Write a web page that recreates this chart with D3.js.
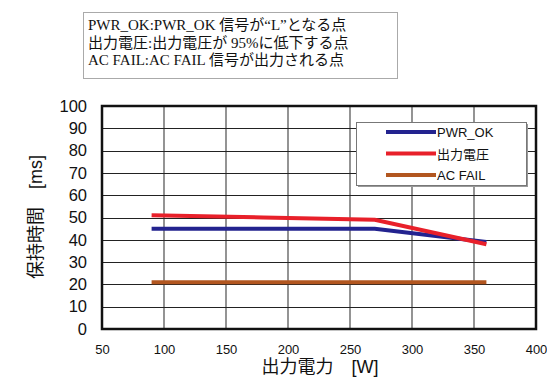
<!DOCTYPE html>
<html>
<head>
<meta charset="utf-8">
<script src="https://cdn.jsdelivr.net/npm/d3@7"></script>
<style>
  body { margin: 0; background: #fff; }
  svg text { font-family: "Liberation Sans", Arial, "Noto Sans CJK JP", sans-serif; }
</style>
</head>
<body>
<svg id="chart" width="547" height="383"></svg>
<script>
// data
const power = [90, 180, 270, 360];
const pwrOk = [45, 45, 45, 39];
const outVolt = [51, 50, 49, 38];
const acFail = [21, 21, 21, 21];
const seriesNames = ["PWR_OK", "出力電圧", "AC FAIL"];
const seriesColors = ["#23238f", "#e8202a", "#b2561f"];
const xTicks = [50, 100, 150, 200, 250, 300, 350, 400];
const yTicks = [0, 10, 20, 30, 40, 50, 60, 70, 80, 90, 100];
const notes = [
  "PWR_OK:PWR_OK 信号が“L”となる点",
  "出力電圧:出力電圧が 95%に低下する点",
  "AC FAIL:AC FAIL 信号が出力される点"
];

const svg = d3.select("#chart");
const plotLeft = 102, plotRight = 536, plotTop = 106, plotBottom = 329;

const x = d3.scaleLinear().domain([50, 400]).range([plotLeft, plotRight]);
const y = d3.scaleLinear().domain([0, 100]).range([plotBottom, plotTop]);

// note box at the top
svg.append("rect")
  .attr("x", 83.5).attr("y", 12.5)
  .attr("width", 314).attr("height", 66)
  .attr("fill", "#fff")
  .attr("stroke", "#aaa");

svg.selectAll("text.note")
  .data(notes)
  .enter()
  .append("text")
  .attr("class", "note")
  .attr("x", 88)
  .attr("y", (d, i) => 30 + i * 17.5)
  .style("font-family", "'Liberation Serif', 'Noto Sans CJK JP', serif")
  .style("font-size", "15px")
  .attr("fill", "#111")
  .text(d => d);

// grid
const g = svg.append("g");
g.selectAll("line.vgrid")
  .data(xTicks.slice(1, -1))
  .enter()
  .append("line")
  .attr("x1", d => x(d)).attr("x2", d => x(d))
  .attr("y1", plotTop).attr("y2", plotBottom)
  .attr("stroke", "#666")
  .attr("stroke-width", 1.4);

g.selectAll("line.hgrid")
  .data(yTicks.slice(1, -1))
  .enter()
  .append("line")
  .attr("x1", plotLeft).attr("x2", plotRight)
  .attr("y1", d => Math.round(y(d)) + 0.5).attr("y2", d => Math.round(y(d)) + 0.5)
  .attr("stroke", "#222")
  .attr("stroke-width", 1.2);

// frame
svg.append("rect")
  .attr("x", plotLeft).attr("y", plotTop)
  .attr("width", plotRight - plotLeft).attr("height", plotBottom - plotTop)
  .attr("fill", "none")
  .attr("stroke", "#111")
  .attr("stroke-width", 2.5);

// axes labels
const yAxis = svg.append("g")
  .attr("transform", `translate(${plotLeft},0)`)
  .call(d3.axisLeft(y).tickValues(yTicks).tickSize(0).tickPadding(15));
yAxis.select(".domain").remove();
yAxis.selectAll("text")
  .style("font-size", "16.5px")
  .attr("fill", "#111");

const xAxis = svg.append("g")
  .attr("transform", `translate(0,${plotBottom})`)
  .call(d3.axisBottom(x).tickValues(xTicks).tickSize(0).tickPadding(16));
xAxis.select(".domain").remove();
xAxis.selectAll("text")
  .style("font-size", "13px")
  .attr("fill", "#111");

svg.append("text")
  .attr("transform", "translate(42,217) rotate(-90)")
  .attr("text-anchor", "middle")
  .style("font-size", "18px")
  .attr("fill", "#111")
  .text("保持時間　[ms]");

svg.append("text")
  .attr("x", 320)
  .attr("y", 373)
  .attr("text-anchor", "middle")
  .style("font-size", "18px")
  .attr("fill", "#111")
  .text("出力電力　[W]");

// series
const series = [pwrOk, outVolt, acFail];
const line = d3.line()
  .x((d, i) => x(power[i]))
  .y(d => y(d));

svg.selectAll("path.series")
  .data(series)
  .enter()
  .append("path")
  .attr("class", "series")
  .attr("d", line)
  .attr("fill", "none")
  .attr("stroke", (d, i) => seriesColors[i])
  .attr("stroke-width", 4);

// red drawn over blue where they cross
svg.selectAll("path.series").filter((d, i) => i === 1).raise();

// legend
const legend = svg.append("g");
legend.append("rect")
  .attr("x", 358).attr("y", 124)
  .attr("width", 170).attr("height", 63)
  .attr("fill", "#999");
legend.append("rect")
  .attr("x", 356.5).attr("y", 122.5)
  .attr("width", 170).attr("height", 63)
  .attr("fill", "#fff")
  .attr("stroke", "#777");

const items = legend.selectAll("g.item")
  .data(seriesNames)
  .enter()
  .append("g")
  .attr("transform", (d, i) => `translate(0,${132 + i * 21.5})`);
items.append("line")
  .attr("x1", 386).attr("x2", 436)
  .attr("stroke", (d, i) => seriesColors[i])
  .attr("stroke-width", 4);
items.append("text")
  .attr("x", 437)
  .attr("y", 5)
  .style("font-size", "13px")
  .attr("fill", "#111")
  .text(d => d);
</script>
</body>
</html>
